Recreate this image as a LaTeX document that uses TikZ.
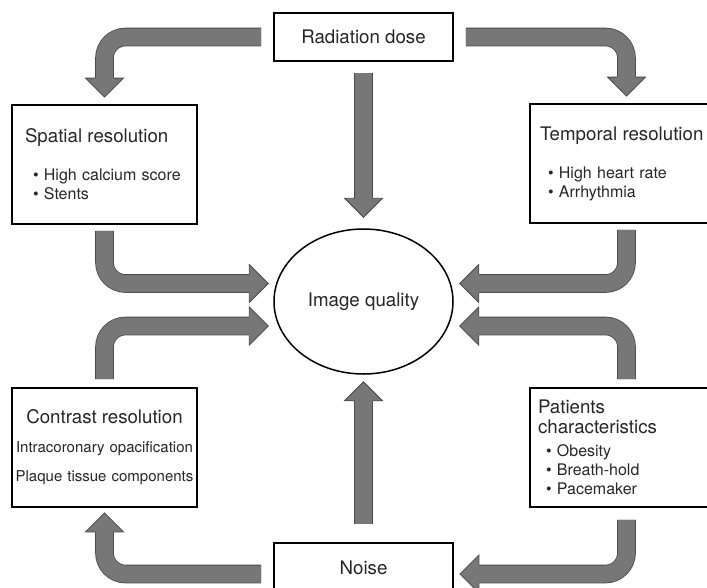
\documentclass[tikz,border=0pt]{standalone}
\usepackage{fontspec}
\setmainfont{TeX Gyre Heros}
\usetikzlibrary{calc,positioning,shapes.geometric}

\definecolor{flowfill}{HTML}{777777}
\definecolor{flowedge}{HTML}{4A4A4A}
\newcommand{\titlesize}{\fontsize{18.7}{19}\selectfont}
\newcommand{\bulletsize}{\fontsize{16}{19}\selectfont}
\newcommand{\bitem}{\hspace*{8pt}\textbullet\ }

\tikzset{
  flowhead/.pic={
    \fill[flowfill] (0,-19) -- (19,0) -- (0,19) -- cycle;
    \draw[flowedge,line width=0.8pt] (0,-9.3) -- (0,-19) -- (19,0) -- (0,19) -- (0,9.3);}}

\begin{document}
\begin{tikzpicture}[x=1pt,y=-1pt,
  factor/.style={rectangle,draw,line width=1.8pt,minimum height=119pt,
                 text=black!85,align=left,font=\bulletsize},
  flow/.style={draw=flowedge,line width=0.8pt,double=flowfill,double distance=17pt,
               rounded corners=21pt,shorten >=-1pt}]

\path[use as bounding box] (0,0) rectangle (707,587);
\clip (0,0) rectangle (707,587);

\node[factor,minimum width=179pt,minimum height=48pt,align=center,font=\titlesize]
  (rad) at (363.5,37) {Radiation dose};
\node[factor,minimum width=185pt,text width=159pt,inner xsep=13pt] (spatial) at (104.5,164.5)
  {{\titlesize Spatial resolution}\\[19pt]\bitem High calcium score\\\bitem Stents};
\node[factor,minimum width=193pt,text width=173pt,inner xsep=10pt] (temporal) at (626.5,163.5)
  {{\titlesize Temporal resolution}\\[19pt]\bitem High heart rate\\\bitem Arrhythmia};
\node[factor,minimum width=185pt,text width=185pt,inner xsep=0pt,align=center,
      font=\fontsize{15}{29}\selectfont] (contrast) at (104.5,447.5)
  {{\titlesize Contrast resolution}\\Intracoronary opacification\\Plaque tissue components};
\node[factor,minimum width=193pt,text width=177pt,inner xsep=8pt] (patients) at (626.5,447.5)
  {{\titlesize Patients}\\[1pt]{\titlesize characteristics}\\[4pt]\bitem Obesity\\
   \bitem Breath-hold\\\bitem Pacemaker};
\node[factor,minimum width=179pt,minimum height=50pt,align=center,font=\titlesize]
  (noise) at (363.5,568) {Noise};
\node[ellipse,draw,line width=1.5pt,minimum width=179pt,minimum height=145pt,inner sep=0pt,
      font=\titlesize,text=black!85] (iq) at (363.5,301.5) {Image quality};

% arrow head positions
\coordinate (h1) at ([yshift=26pt]spatial.north);
\coordinate (h2) at ([yshift=26pt]temporal.north);
\coordinate (h3) at ([yshift=30pt]iq.north);
\coordinate (h4) at ([xshift=-24pt,yshift=18pt]iq.west);
\coordinate (h5) at ([xshift=-24pt,yshift=-24.5pt]iq.west);
\coordinate (h6) at ([xshift=25pt,yshift=18pt]iq.east);
\coordinate (h7) at ([xshift=25pt,yshift=-24.5pt]iq.east);
\coordinate (h8) at ([xshift=25pt,yshift=-6pt]noise.east);
\coordinate (h9) at ([yshift=-24pt]contrast.south);
\coordinate (h10) at ([yshift=-26pt]iq.south);

\draw[flow] ([xshift=-12pt]rad.west) -| (h1);
\draw[flow] ([xshift=12pt]rad.east) -| (h2);
\draw[flow] ([yshift=-11pt]rad.south) -- (h3);
\draw[flow] ([yshift=-6pt]spatial.south) |- (h4);
\draw[flow] ([yshift=8pt]contrast.north) |- (h5);
\draw[flow] ([yshift=-6pt]temporal.south) |- (h6);
\draw[flow] ([yshift=8pt]patients.north) |- (h7);
\draw[flow] ([yshift=-12pt]patients.south) |- (h8);
\draw[flow] ([xshift=-12pt,yshift=-6pt]noise.west) -| (h9);
\draw[flow] ([yshift=18pt]noise.north) -- (h10);

\foreach \h/\a in {h1/-90,h2/-90,h3/-90,h4/0,h5/0,h6/180,h7/180,h8/180,h9/90,h10/90}
  \pic[rotate=\a] at (\h) {flowhead};
\end{tikzpicture}
\end{document}
